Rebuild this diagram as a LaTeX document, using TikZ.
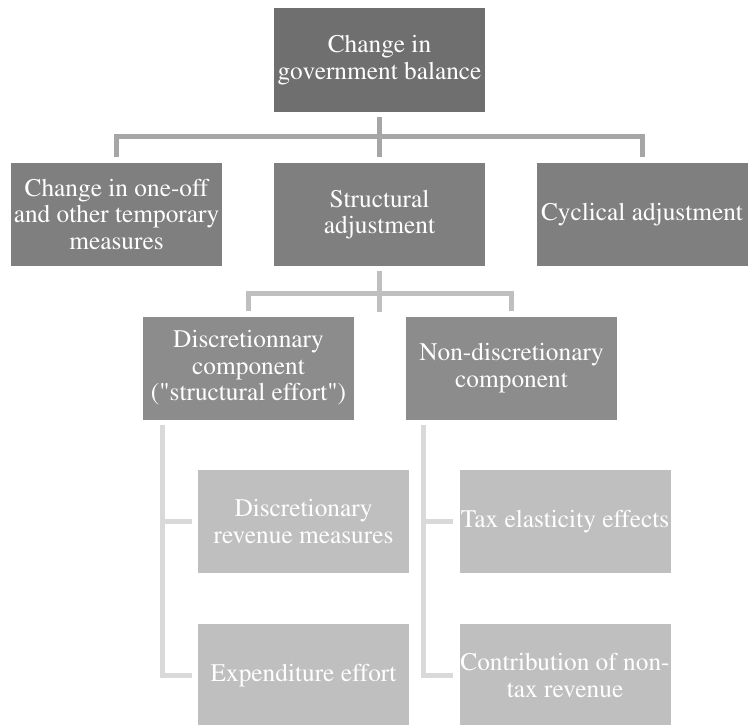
\documentclass[tikz,border=0pt]{standalone}
\usepackage[T1]{fontenc}
\usepackage{mathptmx}
\usetikzlibrary{calc}
\definecolor{gtop}{HTML}{6F6F6F}
\definecolor{gtwo}{HTML}{7F7F7F}
\definecolor{gthree}{HTML}{8C8C8C}
\definecolor{gfour}{HTML}{BFBFBF}
\definecolor{linkone}{HTML}{A6A6A6}
\definecolor{linktwo}{HTML}{BFBFBF}
\definecolor{linkthree}{HTML}{D9D9D9}
\begin{document}
\begin{tikzpicture}[x=0.75pt, y=-0.75pt,
    box/.style={minimum width=158.25pt, minimum height=77.25pt, inner sep=0pt,
        align=center, text=white, font=\fontsize{19}{20}\selectfont},
    link/.style={line width=3.75pt, line join=miter}]
    \useasboundingbox (0,0) rectangle (748,724);

    % boxes
    \node[box, fill=gtop] (top) at (379.5, 60) {Change in\\government balance};

    \node[box, fill=gtwo] (oneoff) at (116.5, 214.5) {Change in one-off\\and other temporary\\measures};
    \node[box, fill=gtwo] (struct) at (379.5, 214.5) {Structural\\adjustment};
    \node[box, fill=gtwo] (cyclical) at (642, 214.5) {Cyclical adjustment};

    \node[box, fill=gthree] (disc) at (248.5, 368) {Discretionnary\\component\\(\textquotedbl structural effort\textquotedbl)};
    \node[box, fill=gthree] (nondisc) at (511.5, 368) {Non-discretionary\\component};

    \node[box, fill=gfour] (revenue) at (303.5, 521.5) {Discretionary\\revenue measures};
    \node[box, fill=gfour] (expend) at (303.5, 675.5) {Expenditure effort};
    \node[box, fill=gfour] (taxel) at (565, 521.5) {Tax elasticity effects};
    \node[box, fill=gfour] (nontax) at (565, 675.5) {Contribution of non-\\tax revenue};

    % connectors
    \draw[link, linkone] ($(top.south)+(0,5)$) -- ($(struct.north)+(0,-6)$);
    \draw[link, linkone] ($(oneoff.north)+(0,-6)$) |- ($(top.south)+(0,25)$) -| ($(cyclical.north)+(0,-6)$);

    \draw[link, linktwo] ($(struct.south)+(0,5)$) -- ($(struct.south)+(0,46)$);
    \draw[link, linktwo] ($(disc.north)+(0,-5)$) |- ($(struct.south)+(0,27)$) -| ($(nondisc.north)+(0,-5)$);

    \draw[link, linkthree] ($(disc.south west)+(20,5)$) |- ($(revenue.west)+(-6,0)$);
    \draw[link, linkthree] ($(disc.south west)+(20,5)$) |- ($(expend.west)+(-6,0)$);
    \draw[link, linkthree] ($(nondisc.south west)+(18,5)$) |- ($(taxel.west)+(-6,0)$);
    \draw[link, linkthree] ($(nondisc.south west)+(18,5)$) |- ($(nontax.west)+(-6,0)$);
\end{tikzpicture}
\end{document}
